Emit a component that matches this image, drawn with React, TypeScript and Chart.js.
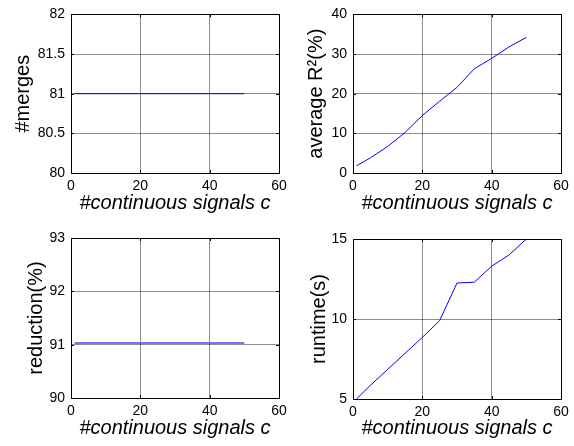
import React, { useEffect, useRef } from 'react';
import { Chart, registerables } from 'chart.js';

Chart.register(...registerables);

// ---- data ----
const signalCounts = [1, 5, 10, 15, 20, 25, 30, 35, 40, 45, 50];
const mergeCounts = [81, 81, 81, 81, 81, 81, 81, 81, 81, 81, 81];
const avgR2Pct = [1.8, 3.8, 6.7, 10.2, 14.5, 18.1, 21.6, 26.3, 28.9, 31.8, 34.2];
const reductionPct = [91.03, 91.03, 91.03, 91.03, 91.03, 91.03, 91.03, 91.03, 91.03, 91.03, 91.03];
const runtimeSec = [5.0, 5.85, 6.85, 7.85, 8.85, 9.9, 12.25, 12.3, 13.3, 14.0, 15.0];

const xTickValues = [0, 20, 40, 60];
const mergeTicks = [80, 80.5, 81, 81.5, 82];
const r2Ticks = [0, 10, 20, 30, 40];
const reductionTicks = [90, 91, 92, 93];
const runtimeTicks = [5, 10, 15];

const xTitle = '#continuous signals c';

const FONT = "'Liberation Sans', Arial, Helvetica, sans-serif";
const W = 574;
const H = 446;

type PanelCfg = {
  values: number[];
  yTicks: number[];
  yTitle: string;
  color: string;
  lineWidth: number;
  rect: { l: number; t: number; r: number; b: number };
  wy: number;
  hx: number;
};

const panels: PanelCfg[] = [
  { values: mergeCounts, yTicks: mergeTicks, yTitle: '#merges', color: '#0000d8', lineWidth: 1,
    rect: { l: 71, t: 12, r: 279, b: 173 }, wy: 60, hx: 42 },
  { values: avgR2Pct, yTicks: r2Ticks, yTitle: 'average R²(%)', color: '#0000ff', lineWidth: 1,
    rect: { l: 353, t: 12, r: 561, b: 173 }, wy: 49, hx: 42 },
  { values: reductionPct, yTicks: reductionTicks, yTitle: 'reduction(%)', color: '#4646ff', lineWidth: 1.6,
    rect: { l: 71, t: 238, r: 279, b: 398 }, wy: 47, hx: 42 },
  { values: runtimeSec, yTicks: runtimeTicks, yTitle: 'runtime(s)', color: '#0000ff', lineWidth: 1,
    rect: { l: 353, t: 239, r: 561, b: 399 }, wy: 46, hx: 41 },
];

const boxPlugin = {
  id: 'matlabBox',
  afterDraw(chart: any) {
    const { ctx, chartArea, scales } = chart;
    const { left, right, top, bottom } = chartArea;
    ctx.save();
    ctx.strokeStyle = '#000';
    ctx.lineWidth = 1;
    const tl = 3;
    ctx.beginPath();
    scales.x.ticks.forEach((t: any) => {
      const px = Math.round(scales.x.getPixelForValue(t.value)) + 0.5;
      ctx.moveTo(px, bottom);
      ctx.lineTo(px, bottom - tl);
      ctx.moveTo(px, top);
      ctx.lineTo(px, top + tl);
    });
    scales.y.ticks.forEach((t: any) => {
      const py = Math.round(scales.y.getPixelForValue(t.value)) + 0.5;
      ctx.moveTo(left, py);
      ctx.lineTo(left + tl, py);
      ctx.moveTo(right, py);
      ctx.lineTo(right - tl, py);
    });
    ctx.stroke();
    ctx.strokeRect(Math.round(left) + 0.5, Math.round(top) + 0.5, Math.round(right - left), Math.round(bottom - top));
    ctx.restore();
  },
};

function Panel({ cfg }: { cfg: PanelCfg }) {
  const ref = useRef<HTMLCanvasElement | null>(null);
  useEffect(() => {
    if (!ref.current) return;
    const { rect, wy, hx } = cfg;
    const yMin = cfg.yTicks[0];
    const yMax = cfg.yTicks[cfg.yTicks.length - 1];
    const chart = new Chart(ref.current, {
      type: 'line',
      data: {
        datasets: [
          {
            data: signalCounts.map((x, i) => ({ x, y: cfg.values[i] })),
            borderColor: cfg.color,
            borderWidth: cfg.lineWidth,
            pointRadius: 0,
            fill: false,
            tension: 0,
          },
        ],
      },
      options: {
        responsive: false,
        animation: false,
        devicePixelRatio: 1,
        layout: {
          padding: { left: rect.l - wy, top: rect.t, right: W - rect.r, bottom: H - rect.b - hx },
        },
        plugins: { legend: { display: false }, tooltip: { enabled: false } },
        scales: {
          x: {
            type: 'linear',
            min: 0,
            max: 60,
            afterBuildTicks: (s: any) => {
              s.ticks = xTickValues.map((v) => ({ value: v }));
            },
            afterFit: (s: any) => {
              s.height = hx;
            },
            ticks: {
              autoSkip: false,
              maxRotation: 0,
              padding: 5,
              color: '#000',
              font: { family: FONT, size: 14 },
              callback: (v: any) => String(v),
            },
            grid: { color: 'rgba(0,0,0,0.45)', drawTicks: false, lineWidth: 1 },
            border: { display: false },
            title: {
              display: true,
              text: xTitle,
              color: '#000',
              padding: 0,
              font: { family: FONT, size: 20, style: 'italic' },
            },
          },
          y: {
            type: 'linear',
            min: yMin,
            max: yMax,
            afterBuildTicks: (s: any) => {
              s.ticks = cfg.yTicks.map((v) => ({ value: v }));
            },
            afterFit: (s: any) => {
              s.width = wy;
            },
            ticks: {
              autoSkip: false,
              padding: 6,
              color: '#000',
              font: { family: FONT, size: 14 },
              callback: (v: any) => String(v),
            },
            grid: { color: 'rgba(0,0,0,0.45)', drawTicks: false, lineWidth: 1 },
            border: { display: false },
            title: {
              display: true,
              text: cfg.yTitle,
              color: '#000',
              padding: 0,
              font: { family: FONT, size: 20 },
            },
          },
        },
      } as any,
      plugins: [boxPlugin],
    });
    return () => chart.destroy();
  }, [cfg]);
  return (
    <canvas
      ref={ref}
      width={W}
      height={H}
      style={{ position: 'absolute', left: 0, top: 0, width: W, height: H }}
    />
  );
}

export default function App() {
  return (
    <div style={{ position: 'absolute', left: 0, top: 0, width: W, height: H, background: '#fff', overflow: 'hidden' }}>
      {panels.map((p, i) => (
        <Panel key={i} cfg={p} />
      ))}
    </div>
  );
}
